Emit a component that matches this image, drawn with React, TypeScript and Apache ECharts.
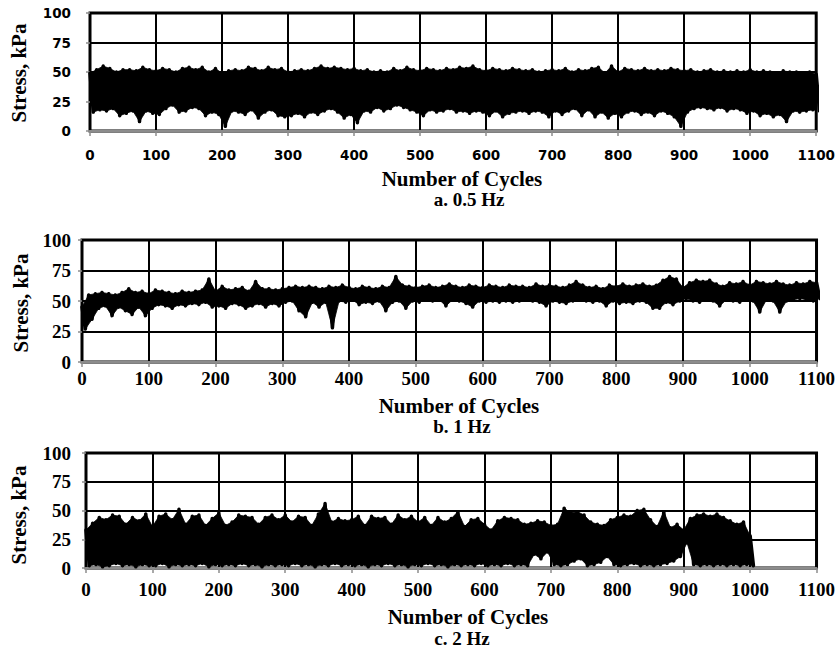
import React, { useEffect, useRef } from "react";
import * as echarts from "echarts";

// Cycle positions of the sampled envelope values (every 10 cycles)
const cyclesAB: number[] = Array.from({ length: 111 }, (_, i) => i * 10);
const cyclesC: number[] = Array.from({ length: 101 }, (_, i) => i * 10);

// a. 0.5 Hz — peak and trough stress (kPa)
const peakA = [49,52,55,53,50,52,52,51,54,52,51,53,52,50,53,54,52,54,50,53,49,51,52,51,54,53,51,54,52,53,50,51,52,51,53,55,53,54,53,52,53,51,52,50,51,50,53,51,54,52,51,53,52,51,53,52,54,53,55,52,51,53,52,51,53,52,51,52,50,51,52,51,53,50,52,51,53,54,49,55,50,53,52,51,53,51,52,51,53,52,51,52,50,51,52,50,51,50,51,50,52,50,51,50,49,51,50,50,49,50,48];
const troughA = [16,18,17,19,13,15,17,8,17,15,14,19,22,16,17,20,19,13,16,14,4,17,16,14,18,11,16,18,13,12,13,15,12,16,14,17,19,16,11,14,7,17,16,20,17,19,22,20,18,16,13,18,16,17,19,16,17,15,17,16,13,17,12,15,16,17,15,17,16,12,17,14,17,19,13,18,12,16,11,15,12,16,17,14,16,13,17,15,12,4,16,19,20,19,18,20,17,19,18,15,17,13,15,12,14,8,17,16,17,18,17];

// b. 1 Hz
const peakB = [45,55,56,57,56,55,57,60,57,58,56,59,58,57,56,58,57,58,59,68,58,62,59,60,61,58,66,60,60,59,60,61,62,61,62,61,60,62,61,63,61,60,62,61,60,62,61,70,63,62,61,62,63,61,62,64,62,61,63,62,61,63,62,61,63,62,62,61,64,62,63,62,61,63,66,63,61,62,60,63,62,64,62,63,64,62,63,67,70,68,61,65,67,66,67,64,62,65,64,66,63,66,65,64,66,64,63,65,64,66,65];
const troughB = [27,35,44,46,38,45,42,39,45,38,44,47,46,44,47,46,48,47,49,45,46,44,48,47,44,46,48,45,48,46,49,50,42,37,49,45,49,28,50,49,51,47,49,48,50,42,49,50,44,50,49,51,50,51,46,51,50,48,45,50,49,50,49,50,49,50,51,50,49,46,50,49,48,50,51,50,49,50,46,50,48,49,48,50,49,44,44,49,47,50,52,50,49,51,50,46,51,50,49,51,50,41,51,50,41,50,51,52,51,50,52];

// c. 2 Hz
const peakC = [33,39,44,42,46,45,38,44,41,47,36,45,47,42,51,38,45,46,37,43,48,37,40,46,45,44,38,44,46,42,46,40,45,44,37,47,56,40,43,41,42,45,37,45,43,44,38,46,42,45,40,44,37,44,40,43,49,36,42,43,38,33,41,44,43,42,38,39,41,40,37,38,52,48,49,46,40,38,37,42,44,46,45,50,51,42,36,49,35,38,33,43,46,47,45,47,44,41,38,40,28];
const troughC = [2,3,1,2,4,2,3,1,3,2,2,4,1,3,2,3,2,4,1,3,2,3,2,4,2,3,1,3,2,3,2,4,2,3,1,3,2,4,2,3,2,3,1,3,2,4,2,3,1,3,2,4,2,3,1,3,2,3,2,4,2,3,2,4,2,3,2,12,8,14,3,2,3,6,8,2,3,5,10,3,2,3,4,2,3,2,3,4,6,10,22,3,2,3,2,3,2,3,2,3,2];

const panelTitles = ["a. 0.5 Hz", "b. 1 Hz", "c. 2 Hz"];
const xTitle = "Number of Cycles";
const yTitle = "Stress, kPa";

function zigzag(cycles: number[], peaks: number[], troughs: number[]) {
  const out: number[][] = [];
  cycles.forEach((c, i) => {
    out.push([c, peaks[i]]);
    out.push([c + 5, troughs[i]]);
  });
  return out;
}

const SERIF = "'Liberation Serif', 'Times New Roman', serif";
const SANS = "'DejaVu Sans', sans-serif";

export default function App() {
  const ref = useRef<HTMLDivElement>(null);
  useEffect(() => {
    if (!ref.current) return;
    const chart = echarts.init(ref.current, undefined, { renderer: "svg" });
    const grids = [
      { left: 90, top: 13, width: 727, height: 118 },
      { left: 82, top: 240, width: 744, height: 122 },
      { left: 86, top: 453, width: 735, height: 115 },
    ];
    const labelFonts = [
      { fontFamily: SANS, fontSize: 13.5 },
      { fontFamily: SERIF, fontSize: 19 },
      { fontFamily: SERIF, fontSize: 19 },
    ];
    const xMargins = [17, 7, 12];
    const yMargins = [19, 11, 15];
    const sets = [
      { cycles: cyclesAB, peaks: peakA, troughs: troughA },
      { cycles: cyclesAB, peaks: peakB, troughs: troughB },
      { cycles: cyclesC, peaks: peakC, troughs: troughC },
    ];
    const gray = "#8c8c8c";
    const series: any[] = [];
    sets.forEach((s, i) => {
      const bandData = s.cycles.map((c, k) => [c, s.peaks[k], s.troughs[k]]);
      series.push({
        type: "custom",
        xAxisIndex: i,
        yAxisIndex: i,
        data: bandData,
        clip: true,
        silent: true,
        encode: { x: 0, y: [1, 2] },
        z: 2,
        renderItem: (params: any, api: any) => {
          const k = params.dataIndex;
          if (k >= bandData.length - 1) return null;
          const a = bandData[k];
          const b = bandData[k + 1];
          const p1 = api.coord([a[0], a[1]]);
          const p2 = api.coord([b[0], b[1]]);
          const p3 = api.coord([b[0] + 5, b[2]]);
          const p4 = api.coord([a[0] + 5, a[2]]);
          return {
            type: "polygon",
            shape: { points: [p1, p2, p3, p4] },
            style: { fill: "#000", stroke: "#000", lineWidth: 0.8 },
          };
        },
      });
      series.push({
        type: "line",
        xAxisIndex: i,
        yAxisIndex: i,
        data: zigzag(s.cycles, s.peaks, s.troughs),
        showSymbol: false,
        symbol: "none",
        clip: true,
        lineStyle: { color: "#000", width: 3.5, join: "round", cap: "round" },
        z: 3,
      });
    });
    const textStyle = (text: string, size: number) => ({
      text,
      fill: "#000",
      fontFamily: SERIF,
      fontWeight: "bold",
      fontSize: size,
      align: "center",
      verticalAlign: "middle",
      textAlign: "center",
      textVerticalAlign: "middle",
    });
    const option: any = {
      animation: false,
      backgroundColor: "#fff",
      grid: grids.map((g) => ({
        ...g,
        show: true,
        borderColor: "#000",
        borderWidth: 3,
        backgroundColor: "#fff",
      })),
      xAxis: grids.map((_, i) => ({
        gridIndex: i,
        type: "value",
        min: 0,
        max: 1100,
        interval: 100,
        splitLine: { show: true, lineStyle: { color: "#000", width: 2 } },
        axisLine: { show: true, onZero: false, lineStyle: { color: gray, width: 2 } },
        axisTick: { show: true, length: 5, lineStyle: { color: gray, width: 1.5 } },
        axisLabel: {
          margin: xMargins[i],
          color: "#000",
          fontWeight: "bold",
          formatter: (v: number) => String(v),
          ...labelFonts[i],
        },
      })),
      yAxis: grids.map((_, i) => ({
        gridIndex: i,
        type: "value",
        min: 0,
        max: 100,
        interval: 25,
        splitLine: { show: true, lineStyle: { color: "#000", width: 2 } },
        axisLine: { show: false },
        axisTick: { show: true, length: 4, lineStyle: { color: gray, width: 1.5 } },
        axisLabel: {
          margin: yMargins[i],
          color: "#000",
          fontWeight: "bold",
          formatter: (v: number) => String(v),
          ...labelFonts[i],
        },
      })),
      series,
      graphic: [
        ...[
          { x: 19, y: 73 },
          { x: 21, y: 303 },
          { x: 19, y: 515 },
        ].map((p) => ({
          type: "text",
          x: p.x,
          y: p.y,
          rotation: Math.PI / 2,
          style: textStyle(yTitle, 21),
        })),
        ...[
          { x: 462, y: 178.5 },
          { x: 459, y: 405.5 },
          { x: 468, y: 617 },
        ].map((p) => ({
          type: "text",
          x: p.x,
          y: p.y,
          style: textStyle(xTitle, 21),
        })),
        ...[
          { x: 469, y: 199.5 },
          { x: 462, y: 426.5 },
          { x: 462, y: 638.5 },
        ].map((p, i) => ({
          type: "text",
          x: p.x,
          y: p.y,
          style: textStyle(panelTitles[i], 19),
        })),
      ],
    };
    chart.setOption(option);
    return () => chart.dispose();
  }, []);
  return (
    <div
      ref={ref}
      style={{ position: "fixed", left: 0, top: 0, width: 838, height: 653, background: "#fff" }}
    />
  );
}
